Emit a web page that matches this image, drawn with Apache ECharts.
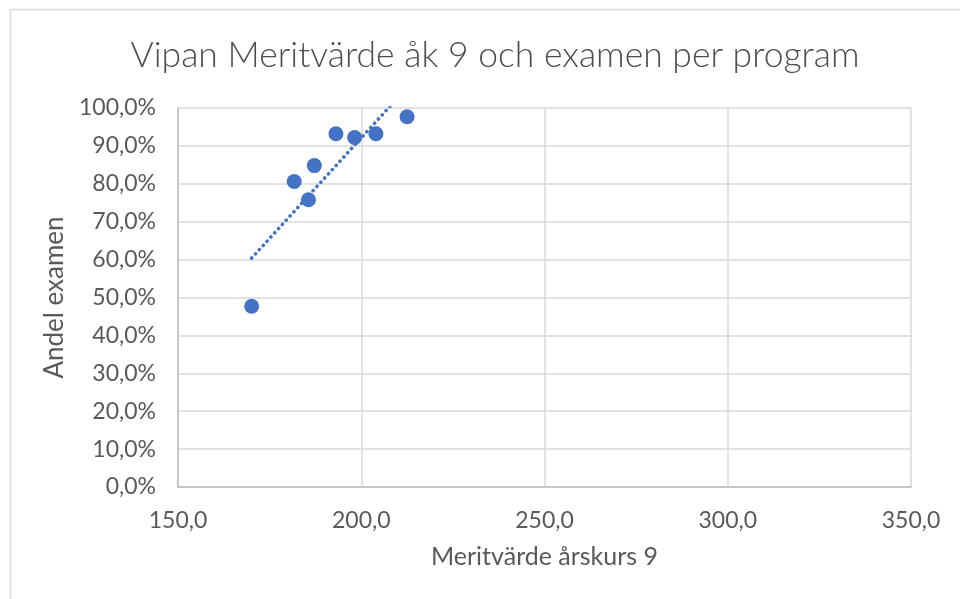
<!DOCTYPE html>
<html>
<head>
<meta charset="utf-8">
<script src="https://cdn.jsdelivr.net/npm/echarts@6/dist/echarts.min.js"></script>
<style>
	html, body { margin: 0; padding: 0; background: #fff; }
	#chart { width: 960px; height: 599px; }
</style>
</head>
<body>
<div id="chart"></div>
<script>
// meritvärde åk 9 per program
const meritValues = [170.1, 181.7, 185.6, 187.2, 193.1, 198.2, 204.0, 212.5];
// andel examen (%)
const examShares = [47.7, 80.6, 75.8, 84.8, 93.2, 92.2, 93.2, 97.7];
const xTicks = [150, 200, 250, 300, 350];
const yTicks = [0, 10, 20, 30, 40, 50, 60, 70, 80, 90, 100];

const blue = '#4472C4';
const textColor = '#595959';
const font = 'Lato, "Open Sans", sans-serif';

// linjär trendlinje (minsta kvadrat)
function trend(xs, ys) {
	let n = xs.length;
	let mx = xs.reduce((a, b) => a + b, 0) / n;
	let my = ys.reduce((a, b) => a + b, 0) / n;
	let sxy = 0, sxx = 0;
	xs.forEach((x, i) => {
		sxy += (x - mx) * (ys[i] - my);
		sxx += (x - mx) * (x - mx);
	});
	let k = sxy / sxx;
	let m = my - k * mx;
	let x0 = Math.min(...xs), x1 = Math.max(...xs);
	return [[x0, m + k * x0], [x1, m + k * x1]];
}

const points = meritValues.map((x, i) => [x, examShares[i]]);

let chart = echarts.init(document.getElementById('chart'));
let option = {
	animation: false,
	textStyle: { fontFamily: font },
	graphic: [{
		type: 'rect',
		shape: { x: 10.5, y: 9.5, width: 980, height: 620 },
		style: { fill: 'none', stroke: '#d9d9d9', lineWidth: 1.5 },
		silent: true
	}],
	title: {
		text: 'Vipan Meritvärde åk 9 och examen per program',
		left: 490,
		top: 33,
		textAlign: 'center',
		textStyle: {
			fontFamily: font,
			fontSize: 35.5,
			fontWeight: 300,
			color: '#4d4d4d'
		}
	},
	grid: {
		left: 178,
		right: 49,
		top: 108,
		bottom: 112,
		containLabel: false
	},
	xAxis: {
		type: 'value',
		min: xTicks[0],
		max: xTicks[xTicks.length - 1],
		interval: 50,
		name: 'Meritvärde årskurs 9',
		nameLocation: 'middle',
		nameGap: 57,
		nameTextStyle: { fontSize: 25, color: textColor, fontFamily: font },
		axisLine: { show: true, lineStyle: { color: '#bfbfbf', width: 1.5 } },
		axisTick: { show: false },
		axisLabel: {
			fontSize: 23,
			color: textColor,
			margin: 22,
			formatter: v => v.toFixed(1).replace('.', ',')
		},
		splitLine: { show: true, lineStyle: { color: '#d9d9d9', width: 1.5 } }
	},
	yAxis: {
		type: 'value',
		min: yTicks[0],
		max: yTicks[yTicks.length - 1],
		interval: 10,
		name: 'Andel examen',
		nameLocation: 'middle',
		nameGap: 102,
		nameTextStyle: { fontSize: 26, color: textColor, fontFamily: font },
		axisLine: { show: true, lineStyle: { color: '#bfbfbf', width: 1.5 } },
		axisTick: { show: false },
		axisLabel: {
			fontSize: 23,
			color: textColor,
			margin: 22,
			formatter: v => v.toFixed(1).replace('.', ',') + '%'
		},
		splitLine: { show: true, lineStyle: { color: '#d9d9d9', width: 1.5 } }
	},
	series: [
		{
			name: 'Trend',
			type: 'line',
			data: trend(meritValues, examShares),
			symbol: 'none',
			clip: true,
			z: 2,
			lineStyle: { color: blue, width: 3.6, type: [0.1, 5.6], cap: 'round' }
		},
		{
			name: 'Program',
			type: 'scatter',
			data: points,
			symbol: 'circle',
			symbolSize: 15,
			z: 3,
			itemStyle: { color: blue, opacity: 1 }
		}
	]
};
chart.setOption(option);
window.addEventListener('resize', () => {
	chart.resize();
});
</script>
</body>
</html>
